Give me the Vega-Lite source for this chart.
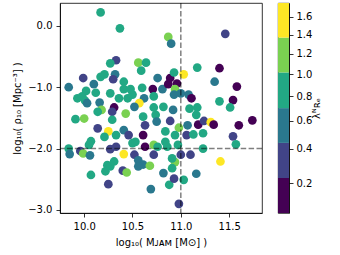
{
  "$schema": "https://vega.github.io/schema/vega-lite/v6.json",
  "padding": {"left": 12, "top": 1, "right": 0, "bottom": 0},
  "spacing": 13,
  "config": {
    "font": "DejaVu Sans",
    "view": {"stroke": "black", "strokeWidth": 0.8},
    "axis": {"grid": false, "domainColor": "black", "domainWidth": 0.8, "tickColor": "black", "tickWidth": 0.8, "tickSize": 4, "labelColor": "black", "labelFontSize": 10, "labelFont": "DejaVu Sans", "titleFont": "DejaVu Sans", "titleFontSize": 10, "titleFontWeight": "normal", "titleColor": "black", "labelPadding": 3}
  },
  "datasets": {
    "pts": [
      {"m":10.17,"r":0.22,"l":0.85},{"m":10.37,"r":-0.04,"l":0.85},{"m":10.87,"r":-0.18,"l":1.2},{"m":10.90,"r":-0.29,"l":0.57},
      {"m":11.46,"r":-0.13,"l":0.33},{"m":10.33,"r":-0.56,"l":0.33},{"m":10.27,"r":-0.61,"l":0.85},{"m":10.56,"r":-0.60,"l":1.2},
      {"m":10.64,"r":-0.60,"l":0.85},{"m":10.59,"r":-0.73,"l":0.85},{"m":9.99,"r":-0.85,"l":0.33},{"m":10.17,"r":-0.83,"l":0.85},
      {"m":10.21,"r":-0.79,"l":0.85},{"m":10.32,"r":-0.79,"l":0.57},{"m":10.30,"r":-0.87,"l":0.33},{"m":10.76,"r":-0.85,"l":0.57},
      {"m":10.89,"r":-0.85,"l":0.15},{"m":10.93,"r":-0.76,"l":0.85},{"m":11.03,"r":-0.79,"l":1.55},{"m":11.17,"r":-0.68,"l":0.85},
      {"m":11.40,"r":-0.69,"l":0.15},{"m":9.84,"r":-1.00,"l":0.57},{"m":10.10,"r":-0.95,"l":0.57},{"m":10.02,"r":-1.06,"l":0.85},
      {"m":9.93,"r":-1.18,"l":0.85},{"m":9.98,"r":-1.15,"l":0.85},{"m":10.01,"r":-1.22,"l":0.85},{"m":10.12,"r":-1.09,"l":0.85},
      {"m":10.27,"r":-1.10,"l":0.85},{"m":10.41,"r":-1.03,"l":0.85},{"m":10.41,"r":-0.91,"l":0.85},{"m":10.36,"r":-1.18,"l":0.85},
      {"m":10.45,"r":-1.18,"l":0.85},{"m":10.50,"r":-1.12,"l":0.85},{"m":10.48,"r":-1.03,"l":0.85},{"m":10.60,"r":-1.01,"l":0.85},
      {"m":10.62,"r":-1.18,"l":0.57},{"m":10.71,"r":-1.03,"l":0.15},{"m":10.81,"r":-1.03,"l":0.57},{"m":10.72,"r":-1.15,"l":0.85},
      {"m":10.87,"r":-0.95,"l":0.15},{"m":10.96,"r":-0.94,"l":0.15},{"m":10.94,"r":-1.03,"l":1.2},{"m":10.93,"r":-1.12,"l":0.57},
      {"m":11.00,"r":-1.10,"l":0.57},{"m":11.08,"r":-1.12,"l":0.57},{"m":11.11,"r":-1.18,"l":0.15},{"m":11.35,"r":-0.91,"l":0.57},
      {"m":11.58,"r":-0.99,"l":0.15},{"m":10.03,"r":-1.26,"l":0.57},{"m":10.16,"r":-1.25,"l":0.57},{"m":10.31,"r":-1.33,"l":0.15},
      {"m":10.18,"r":-1.37,"l":1.2},{"m":10.43,"r":-1.43,"l":1.2},{"m":10.14,"r":-1.40,"l":0.85},{"m":10.29,"r":-1.40,"l":0.33},
      {"m":10.57,"r":-1.26,"l":1.55},{"m":10.52,"r":-1.32,"l":0.57},{"m":10.61,"r":-1.48,"l":0.85},{"m":10.74,"r":-1.45,"l":0.85},
      {"m":10.75,"r":-1.56,"l":0.57},{"m":10.82,"r":-1.32,"l":0.85},{"m":10.92,"r":-1.37,"l":0.57},{"m":11.09,"r":-1.35,"l":0.85},
      {"m":11.17,"r":-1.33,"l":0.85},{"m":11.40,"r":-1.23,"l":0.85},{"m":11.54,"r":-1.21,"l":0.15},{"m":11.51,"r":-1.33,"l":0.85},
      {"m":11.16,"r":-1.45,"l":0.85},{"m":9.91,"r":-1.52,"l":0.85},{"m":10.00,"r":-1.51,"l":1.2},{"m":10.29,"r":-1.53,"l":0.85},
      {"m":10.14,"r":-1.67,"l":0.33},{"m":10.25,"r":-1.72,"l":1.55},{"m":10.41,"r":-1.70,"l":0.57},{"m":10.63,"r":-1.62,"l":0.33},
      {"m":10.89,"r":-1.55,"l":0.33},{"m":10.98,"r":-1.66,"l":1.2},{"m":11.07,"r":-1.62,"l":0.57},{"m":11.18,"r":-1.61,"l":0.15},
      {"m":11.24,"r":-1.55,"l":0.33},{"m":11.31,"r":-1.57,"l":1.55},{"m":11.34,"r":-1.61,"l":0.15},{"m":11.60,"r":-1.62,"l":0.15},
      {"m":11.74,"r":-1.54,"l":0.15},{"m":10.72,"r":-1.33,"l":0.85},{"m":10.84,"r":-1.72,"l":0.85},{"m":10.94,"r":-1.78,"l":0.85},
      {"m":11.06,"r":-1.78,"l":0.33},{"m":11.13,"r":-1.77,"l":0.85},{"m":11.23,"r":-1.75,"l":0.85},{"m":11.54,"r":-1.80,"l":0.33},
      {"m":11.57,"r":-1.93,"l":0.85},{"m":10.46,"r":-1.78,"l":0.33},{"m":10.61,"r":-1.78,"l":0.15},{"m":10.50,"r":-1.91,"l":0.85},
      {"m":10.53,"r":-1.89,"l":0.85},{"m":10.63,"r":-1.97,"l":0.15},{"m":10.72,"r":-1.94,"l":1.2},{"m":10.21,"r":-1.81,"l":0.85},
      {"m":10.33,"r":-1.78,"l":0.85},{"m":10.07,"r":-1.88,"l":0.85},{"m":10.05,"r":-1.94,"l":0.85},{"m":9.96,"r":-2.04,"l":0.33},
      {"m":9.99,"r":-2.08,"l":1.2},{"m":9.84,"r":-2.00,"l":0.85},{"m":9.85,"r":-2.09,"l":0.57},{"m":10.06,"r":-2.11,"l":0.57},
      {"m":10.27,"r":-2.01,"l":0.33},{"m":10.33,"r":-1.97,"l":0.33},{"m":10.41,"r":-2.09,"l":1.55},{"m":10.52,"r":-2.10,"l":0.33},
      {"m":10.72,"r":-2.10,"l":0.33},{"m":11.00,"r":-2.10,"l":0.33},{"m":11.10,"r":-2.10,"l":0.33},{"m":10.84,"r":-1.89,"l":0.85},
      {"m":10.86,"r":-1.97,"l":0.85},{"m":10.76,"r":-1.97,"l":0.85},{"m":11.23,"r":-2.00,"l":0.85},{"m":10.56,"r":-2.19,"l":0.57},
      {"m":10.61,"r":-2.26,"l":0.57},{"m":10.56,"r":-2.29,"l":0.57},{"m":10.68,"r":-2.28,"l":1.2},{"m":10.94,"r":-2.22,"l":1.2},
      {"m":10.91,"r":-2.16,"l":0.85},{"m":11.41,"r":-2.21,"l":1.55},{"m":10.97,"r":-1.94,"l":0.85},{"m":10.24,"r":-2.27,"l":0.85},
      {"m":10.27,"r":-2.29,"l":0.85},{"m":10.22,"r":-2.37,"l":0.85},{"m":10.40,"r":-2.36,"l":0.33},{"m":10.44,"r":-2.39,"l":1.2},
      {"m":10.07,"r":-2.43,"l":0.85},{"m":10.25,"r":-2.58,"l":0.33},{"m":10.82,"r":-2.40,"l":0.57},{"m":10.69,"r":-2.66,"l":0.57},
      {"m":10.88,"r":-2.59,"l":0.85},{"m":10.93,"r":-2.49,"l":0.33},{"m":11.03,"r":-2.51,"l":0.85},{"m":10.98,"r":-2.90,"l":0.33},
      {"m":11.16,"r":-2.41,"l":0.57},{"m":10.91,"r":-2.32,"l":0.85},{"m":10.31,"r":-2.21,"l":0.85}
    ],
    "bar": [
      {"lo":0.0746,"hi":0.226,"l":0.15},{"lo":0.226,"hi":0.438,"l":0.33},{"lo":0.438,"hi":0.70,"l":0.57},
      {"lo":0.70,"hi":1.017,"l":0.85},{"lo":1.017,"hi":1.371,"l":1.2},{"lo":1.371,"hi":1.763,"l":1.55}
    ]
  },
  "hconcat": [
    {
      "width": 202,
      "height": 210,
      "layer": [
        {
          "data": {"name": "pts"},
          "mark": {"type": "circle", "size": 76, "opacity": 1},
          "encoding": {
            "x": {"field": "m", "type": "quantitative", "scale": {"domain": [9.75, 11.84], "nice": false, "zero": false}, "axis": {"values": [10, 10.5, 11, 11.5], "format": ".1f", "title": "log₁₀( Mᴊᴀᴍ [M⊙] )", "labelPadding": 4, "titlePadding": 6}},
            "y": {"field": "r", "type": "quantitative", "scale": {"domain": [-3.05, 0.373], "nice": false, "zero": false}, "axis": {"values": [-3, -2.5, -2, -1.5, -1, -0.5, 0], "format": ".1f", "title": "log₁₀( ρ₁₀ [Mpc⁻³] )", "labelPadding": 4, "titlePadding": 5}},
            "color": {"field": "l", "type": "quantitative", "scale": {"type": "threshold", "domain": [0.226, 0.438, 0.70, 1.017, 1.371], "range": ["#440154", "#414487", "#2a788e", "#22a884", "#7ad151", "#fde725"]}, "legend": null}
          }
        },
        {
          "data": {"values": [{"v": 11}]},
          "mark": {"type": "rule", "color": "black", "opacity": 0.5, "strokeWidth": 1.5, "strokeDash": [5.5, 2.4]},
          "encoding": {"x": {"field": "v", "type": "quantitative"}}
        },
        {
          "data": {"values": [{"v": -2}]},
          "mark": {"type": "rule", "color": "black", "opacity": 0.5, "strokeWidth": 1.5, "strokeDash": [5.5, 2.4]},
          "encoding": {"y": {"field": "v", "type": "quantitative"}}
        }
      ]
    },
    {
      "width": 11,
      "height": 210,
      "data": {"name": "bar"},
      "mark": {"type": "rect", "strokeWidth": 0},
      "encoding": {
        "y": {"field": "lo", "type": "quantitative", "scale": {"type": "pow", "exponent": 0.6, "domain": [0.0746, 1.763], "nice": false, "zero": false}, "axis": {"orient": "right", "values": [0.2, 0.4, 0.6, 0.8, 1.0, 1.2, 1.4, 1.6], "format": ".1f", "title": "λᴺʀₑ", "titleAngle": 270, "titlePadding": 10, "labelPadding": 3}},
        "y2": {"field": "hi"},
        "color": {"field": "l", "type": "quantitative", "scale": {"type": "threshold", "domain": [0.226, 0.438, 0.70, 1.017, 1.371], "range": ["#440154", "#414487", "#2a788e", "#22a884", "#7ad151", "#fde725"]}, "legend": null}
      }
    }
  ]
}
